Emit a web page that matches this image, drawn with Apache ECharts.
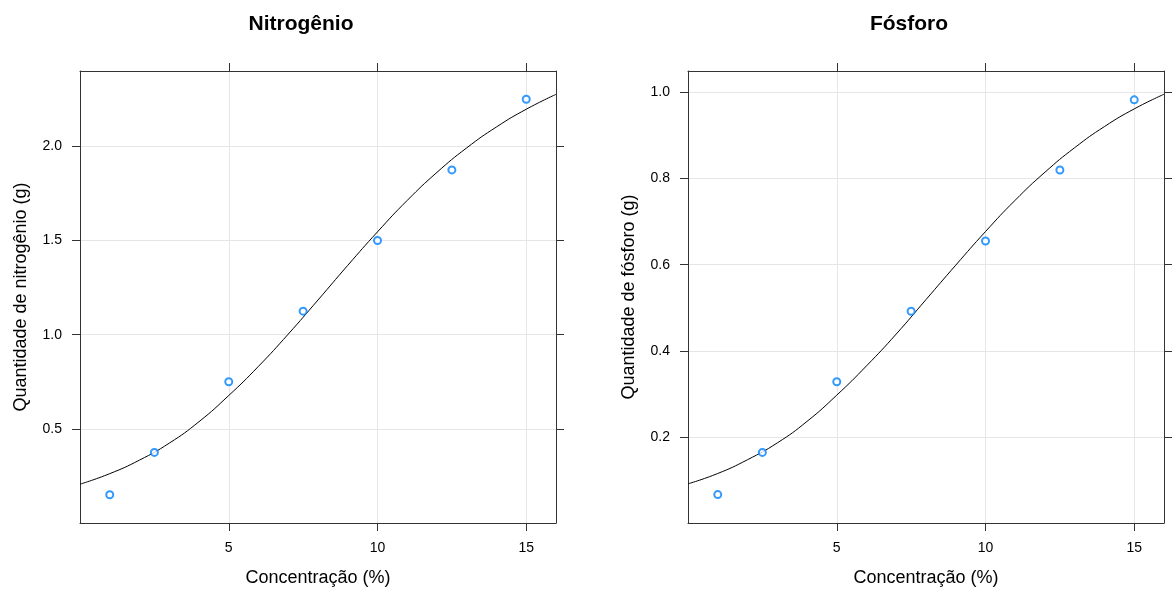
<!DOCTYPE html>
<html>
<head>
<meta charset="utf-8">
<script src="https://cdn.jsdelivr.net/npm/echarts@6/dist/echarts.min.js"></script>
<style>
  html, body { margin: 0; padding: 0; background: #fff; }
  #chart { width: 1172px; height: 590px; }
</style>
</head>
<body>
<div id="chart"></div>
<script>
// observed points
const concentracao = [1, 2.5, 5, 7.5, 10, 12.5, 15]
const nitrogenio = [0.15, 0.375, 0.75, 1.125, 1.5, 1.875, 2.25]
const fosforo = [0.066, 0.164, 0.328, 0.492, 0.655, 0.82, 0.983]

// fitted curve
const curveX = [0, 1, 2, 3, 4, 5, 6, 7, 8, 9, 10, 11, 12, 13, 14, 15, 16]
const curveN = [0.206, 0.262, 0.334, 0.424, 0.538, 0.677, 0.832, 1.003, 1.184, 1.368, 1.546, 1.713, 1.862, 1.992, 2.103, 2.197, 2.276]
const curveP = [0.091, 0.115, 0.147, 0.186, 0.236, 0.297, 0.365, 0.439, 0.519, 0.599, 0.677, 0.75, 0.815, 0.872, 0.921, 0.962, 0.996]

// tick labels
const xTicks = [5, 10, 15]
const yTicksN = [0.5, 1.0, 1.5, 2.0]
const yTicksP = [0.2, 0.4, 0.6, 0.8, 1.0]

const FONT = '"Liberation Sans", Arial, sans-serif'
const BOX = '#333333'
const GRIDLINE = '#e6e6e6'

const chart = echarts.init(document.getElementById('chart'))

const pairs = (xs, ys) => xs.map((x, i) => [x, ys[i]])

const xAxisPair = (gridIndex) => [
    {
        gridIndex,
        type: 'value',
        position: 'bottom',
        min: 0,
        max: 16,
        interval: 5,
        name: 'Concentração (%)',
        nameLocation: 'middle',
        nameGap: 46,
        nameTextStyle: { fontFamily: FONT, fontSize: 18, color: '#000' },
        axisLine: { show: true, onZero: false, lineStyle: { color: BOX, width: 1 } },
        axisTick: { show: true, length: 8, customValues: xTicks, lineStyle: { color: BOX } },
        axisLabel: { customValues: xTicks, margin: 18, fontFamily: FONT, fontSize: 14, color: '#000' },
        splitLine: { show: true, lineStyle: { color: GRIDLINE, width: 1 } },
    },
    {
        gridIndex,
        type: 'value',
        position: 'top',
        min: 0,
        max: 16,
        interval: 5,
        axisLine: { show: true, onZero: false, lineStyle: { color: BOX, width: 1 } },
        axisTick: { show: true, length: 8, customValues: xTicks, lineStyle: { color: BOX } },
        axisLabel: { show: false },
        splitLine: { show: false },
    },
]

const yAxisPair = (gridIndex, name, max, interval, ticks) => [
    {
        gridIndex,
        type: 'value',
        position: 'left',
        min: 0,
        max,
        interval,
        name,
        nameLocation: 'middle',
        nameGap: 50,
        nameTextStyle: { fontFamily: FONT, fontSize: 18, color: '#000' },
        axisLine: { show: true, onZero: false, lineStyle: { color: BOX, width: 1 } },
        axisTick: { show: true, length: 8, customValues: ticks, lineStyle: { color: BOX } },
        axisLabel: {
            customValues: ticks,
            margin: 18,
            fontFamily: FONT,
            fontSize: 14,
            color: '#000',
            formatter: (v) => v.toFixed(1),
        },
        splitLine: { show: true, lineStyle: { color: GRIDLINE, width: 1 } },
    },
    {
        gridIndex,
        type: 'value',
        position: 'right',
        min: 0,
        max,
        interval,
        axisLine: { show: true, onZero: false, lineStyle: { color: BOX, width: 1 } },
        axisTick: { show: true, length: 8, customValues: ticks, lineStyle: { color: BOX } },
        axisLabel: { show: false },
        splitLine: { show: false },
    },
]

const curveSeries = (axisIndex, ys) => ({
    type: 'line',
    xAxisIndex: axisIndex,
    yAxisIndex: axisIndex,
    data: pairs(curveX, ys),
    smooth: true,
    showSymbol: false,
    lineStyle: { color: '#000', width: 1 },
    z: 3,
})

const pointSeries = (axisIndex, ys) => ({
    type: 'scatter',
    xAxisIndex: axisIndex,
    yAxisIndex: axisIndex,
    data: pairs(concentracao, ys),
    symbol: 'emptyCircle',
    symbolSize: 7,
    itemStyle: { color: '#0080ff', borderColor: '#0080ff', borderWidth: 1 },
    z: 4,
})

chart.setOption({
    animation: false,
    backgroundColor: '#fff',
    title: [
        {
            text: 'Nitrogênio',
            left: 296,
            top: 9,
            textAlign: 'center',
            textStyle: { fontFamily: FONT, fontSize: 21, fontWeight: 'bold', color: '#000' },
        },
        {
            text: 'Fósforo',
            left: 904,
            top: 9,
            textAlign: 'center',
            textStyle: { fontFamily: FONT, fontSize: 21, fontWeight: 'bold', color: '#000' },
        },
    ],
    grid: [
        { left: 80, width: 476, top: 71, height: 452, outerBoundsMode: 'none' },
        { left: 688, width: 476, top: 71, height: 452, outerBoundsMode: 'none' },
    ],
    xAxis: [...xAxisPair(0), ...xAxisPair(1)],
    yAxis: [
        ...yAxisPair(0, 'Quantidade de nitrogênio (g)', 2.4, 0.5, yTicksN),
        ...yAxisPair(1, 'Quantidade de fósforo (g)', 1.05, 0.2, yTicksP),
    ],
    series: [
        curveSeries(0, curveN),
        pointSeries(0, nitrogenio),
        // second panel: axes 2 are the bottom/left axes of grid 1
        curveSeries(2, curveP),
        pointSeries(2, fosforo),
    ],
})
</script>
</body>
</html>
